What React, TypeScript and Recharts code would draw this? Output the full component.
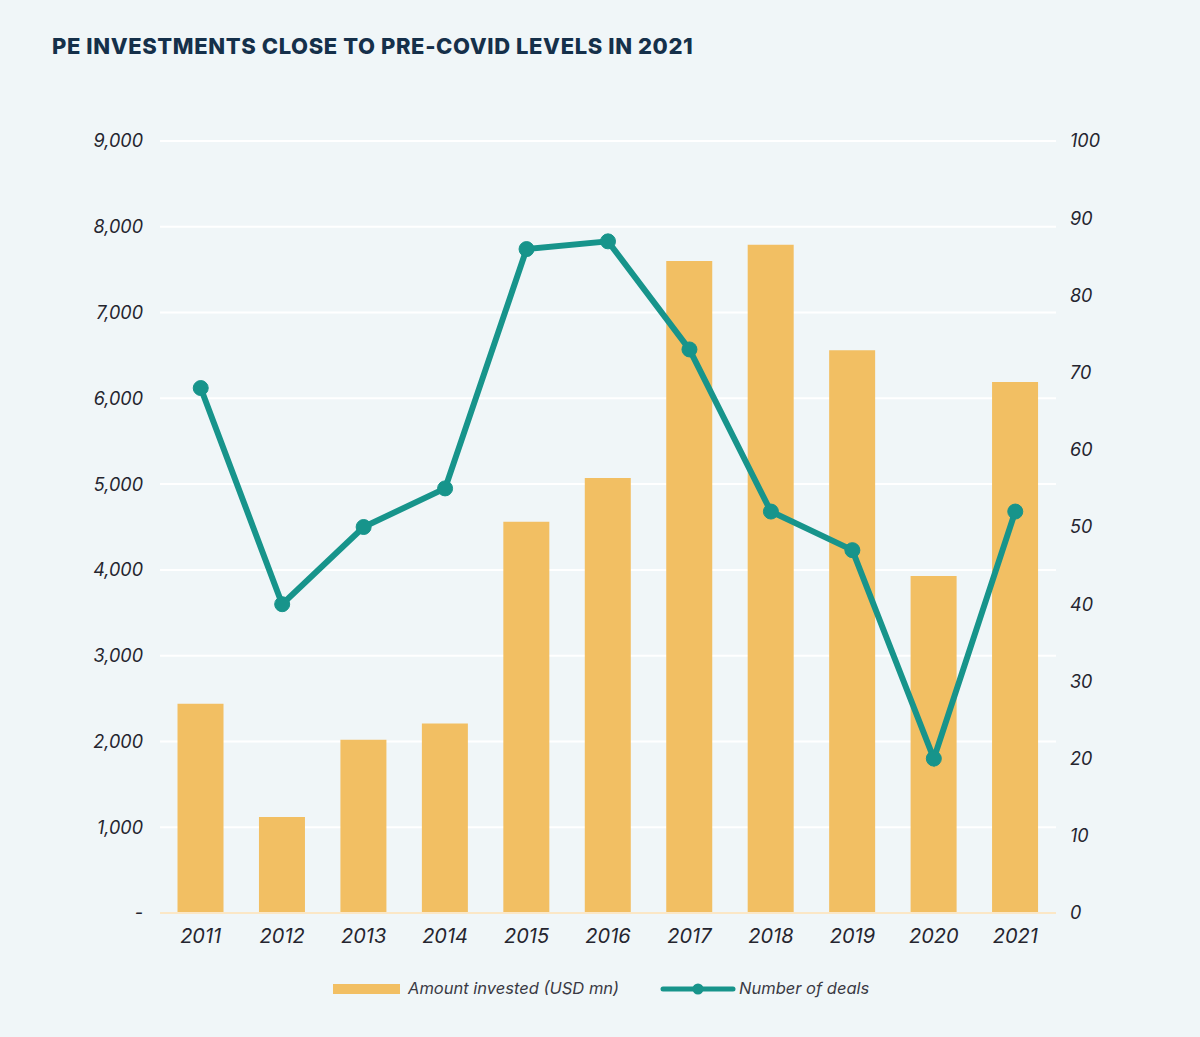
import React from "react";
import { ComposedChart, Bar, Line, XAxis, YAxis, CartesianGrid } from "recharts";

const years = ["2011", "2012", "2013", "2014", "2015", "2016", "2017", "2018", "2019", "2020", "2021"];
const amountInvested = [2440, 1120, 2020, 2210, 4560, 5070, 7600, 7790, 6560, 3930, 6190];
const numberOfDeals = [68, 40, 50, 55, 86, 87, 73, 52, 47, 20, 52];
const leftTicks = [0, 1000, 2000, 3000, 4000, 5000, 6000, 7000, 8000, 9000];
const rightTicks = [0, 10, 20, 30, 40, 50, 60, 70, 80, 90, 100];
const title = "PE INVESTMENTS CLOSE TO PRE-COVID LEVELS IN 2021";
const barLabel = "Amount invested (USD mn)";
const lineLabel = "Number of deals";

const data = years.map((y, i) => ({ year: y, amount: amountInvested[i], deals: numberOfDeals[i] }));

const BG = "#f0f6f8";
const BAR = "#f2bf63";
const LINE = "#17948b";
const TXT = "#25252f";
const FONT = "Inter, 'Open Sans', sans-serif";

export default function App() {
  const tickStyle = { fill: TXT, fontSize: 18, fontStyle: "italic", fontFamily: FONT };
  return (
    <div style={{ position: "absolute", left: 0, top: 0, width: 1200, height: 1037, background: BG, fontFamily: FONT }}>
      <div style={{ position: "absolute", left: 52, top: 33, fontSize: 22, fontWeight: 800, color: "#15304a", letterSpacing: 0.6, whiteSpace: "nowrap" }}>
        {title}
      </div>
      <ComposedChart
        width={1200}
        height={1037}
        data={data}
        margin={{ top: 141, right: 0, bottom: 74, left: 0 }}
        barCategoryGap="21.5%"
        style={{ position: "absolute", left: 0, top: 0 }}
      >
        <CartesianGrid yAxisId="left" vertical={false} stroke="#ffffff" strokeWidth={2} />
        <XAxis
          dataKey="year"
          axisLine={{ stroke: "#fbe7c6", strokeWidth: 2 }}
          tickLine={false}
          height={50}
          tick={{ ...tickStyle, fontSize: 20 }}
          tickMargin={10}
        />
        <YAxis
          yAxisId="left"
          orientation="left"
          width={160}
          domain={[0, 9000]}
          ticks={leftTicks}
          axisLine={false}
          tickLine={false}
          tickMargin={11}
          tick={tickStyle}
          tickFormatter={(v: number) => (v === 0 ? "-" : v.toLocaleString("en-US"))}
        />
        <YAxis
          yAxisId="right"
          orientation="right"
          width={144}
          domain={[0, 100]}
          ticks={rightTicks}
          axisLine={false}
          tickLine={false}
          tickMargin={8}
          tick={tickStyle}
        />
        <Bar yAxisId="left" dataKey="amount" fill={BAR} isAnimationActive={false} />
        <Line
          yAxisId="right"
          dataKey="deals"
          stroke={LINE}
          strokeWidth={6}
          dot={{ r: 7.5, fill: LINE, stroke: LINE, strokeWidth: 1 }}
          activeDot={false}
          isAnimationActive={false}
        />
      </ComposedChart>
      <div style={{ position: "absolute", left: 333, top: 984, width: 67, height: 10, background: BAR }} />
      <div style={{ position: "absolute", left: 408, top: 978, fontSize: 16.5, fontStyle: "italic", color: "#3a3a44", whiteSpace: "nowrap" }}>
        {barLabel}
      </div>
      <svg style={{ position: "absolute", left: 660, top: 980 }} width={76} height={18}>
        <line x1={3} y1={9} x2={73} y2={9} stroke={LINE} strokeWidth={5} strokeLinecap="round" />
        <circle cx={38} cy={9} r={5.5} fill={LINE} />
      </svg>
      <div style={{ position: "absolute", left: 739, top: 978, fontSize: 16.5, fontStyle: "italic", color: "#3a3a44", whiteSpace: "nowrap" }}>
        {lineLabel}
      </div>
    </div>
  );
}
